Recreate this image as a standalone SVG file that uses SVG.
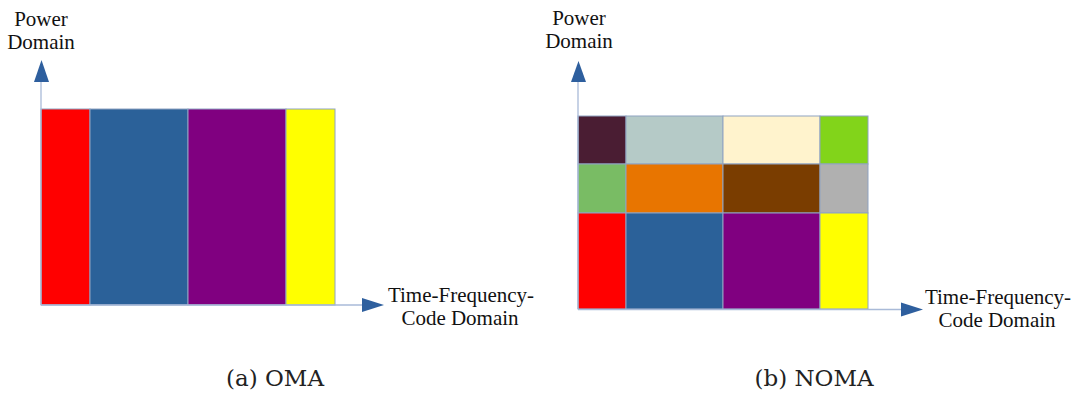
<svg xmlns="http://www.w3.org/2000/svg" width="1077" height="393" viewBox="0 0 1077 393">
  <style>
    .lbl { font-family: "Liberation Serif", "Times New Roman", serif; font-size: 21px; fill: #111; text-anchor: middle; }
    .cap { font-family: "DejaVu Serif", "Liberation Serif", serif; font-size: 23px; fill: #222; text-anchor: middle; }
    .axis { stroke: #A9BAD8; stroke-width: 1.3; fill: none; }
    .cell { stroke: #8FA3C2; stroke-width: 1; }
    .head { fill: #2E5F9E; }
  </style>
  <rect width="1077" height="393" fill="#fff"/>

  <!-- (a) OMA -->
  <g id="oma">
    <g id="oma-blocks">
      <rect class="cell" x="41" y="109" width="49" height="196" fill="#FF0000"/>
      <rect class="cell" x="90" y="109" width="98" height="196" fill="#2B6199"/>
      <rect class="cell" x="188" y="109" width="98" height="196" fill="#800080"/>
      <rect class="cell" x="286" y="109" width="49" height="196" fill="#FFFF00"/>
    </g>
    <g id="oma-axes">
      <line class="axis" x1="41" y1="82" x2="41" y2="305"/>
      <line class="axis" x1="41" y1="305" x2="363" y2="305"/>
      <polygon class="head" points="34,82 49,82 41.5,60"/>
      <polygon class="head" points="362,298 362,312 384,305"/>
    </g>
    <text class="lbl" x="41" y="26">Power</text>
    <text class="lbl" x="41" y="49">Domain</text>
    <text class="lbl" x="461" y="302">Time-Frequency-</text>
    <text class="lbl" x="460" y="325">Code Domain</text>
    <text class="cap" x="275" y="386">(a)  OMA</text>
  </g>

  <!-- (b) NOMA -->
  <g id="noma">
    <g id="noma-blocks">
      <rect class="cell" x="578" y="116" width="48" height="48" fill="#4A1D33"/>
      <rect class="cell" x="626" y="116" width="97" height="48" fill="#B5CAC7"/>
      <rect class="cell" x="723" y="116" width="97" height="48" fill="#FFF3CD"/>
      <rect class="cell" x="820" y="116" width="48" height="48" fill="#82D41A"/>
      <rect class="cell" x="578" y="164" width="48" height="49" fill="#79BC64"/>
      <rect class="cell" x="626" y="164" width="97" height="49" fill="#E87500"/>
      <rect class="cell" x="723" y="164" width="97" height="49" fill="#7A3D00"/>
      <rect class="cell" x="820" y="164" width="48" height="49" fill="#B0B0B0"/>
      <rect class="cell" x="578" y="213" width="48" height="96" fill="#FF0000"/>
      <rect class="cell" x="626" y="213" width="97" height="96" fill="#2B6199"/>
      <rect class="cell" x="723" y="213" width="97" height="96" fill="#800080"/>
      <rect class="cell" x="820" y="213" width="48" height="96" fill="#FFFF00"/>
    </g>
    <g id="noma-axes">
      <line class="axis" x1="578" y1="82" x2="578" y2="309"/>
      <line class="axis" x1="578" y1="309.5" x2="902" y2="309.5"/>
      <polygon class="head" points="571,82 586,82 578.5,61"/>
      <polygon class="head" points="901,302.5 901,316.5 923,309.5"/>
    </g>
    <text class="lbl" x="579" y="25">Power</text>
    <text class="lbl" x="579" y="48">Domain</text>
    <text class="lbl" x="998" y="304">Time-Frequency-</text>
    <text class="lbl" x="997" y="327">Code Domain</text>
    <text class="cap" x="814" y="386">(b)  NOMA</text>
  </g>
</svg>
